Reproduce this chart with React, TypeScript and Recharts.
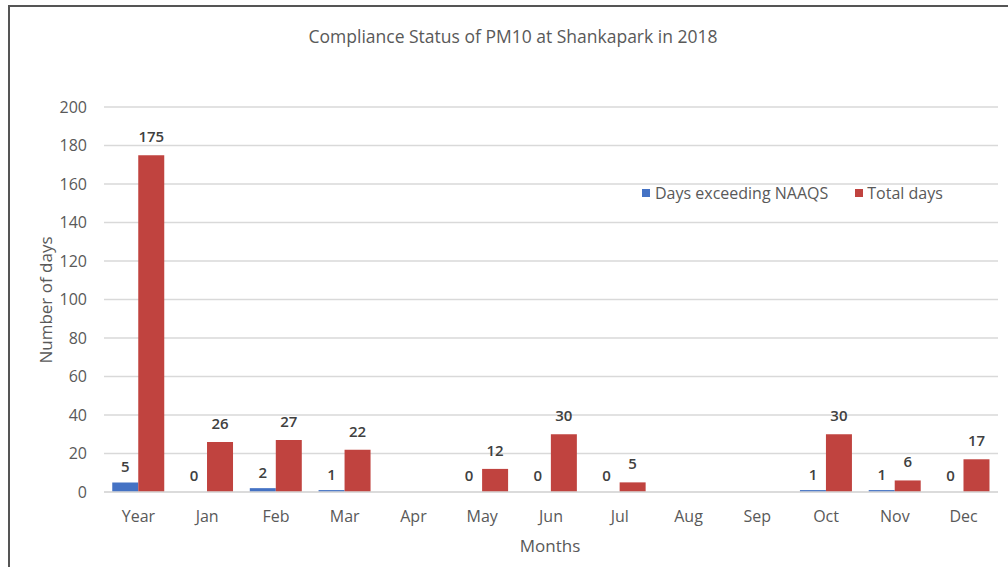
import { Bar, BarChart, CartesianGrid, Cell, LabelList, XAxis, YAxis } from "recharts";

const months = ["Year", "Jan", "Feb", "Mar", "Apr", "May", "Jun", "Jul", "Aug", "Sep", "Oct", "Nov", "Dec"];
const exceeding = [5, 0, 2, 1, null, 0, 0, 0, null, null, 1, 1, 0];
const totalDays = [175, 26, 27, 22, null, 12, 30, 5, null, null, 30, 6, 17];
const yTicks = [0, 20, 40, 60, 80, 100, 120, 140, 160, 180, 200];

const data = months.map((m, i) => ({ month: m, exceeding: exceeding[i], total: totalDays[i] }));

const BLUE = "#4472C4";
const RED = "#C0433F";
const TEXT = "#595959";
const FONT = "'Open Sans', sans-serif";

// zero values still need a (invisible) bar so the "0" label gets drawn
const zeroSize = (v: any) => (v === 0 ? 1 : 0);

export default function App() {
  return (
    <div
      style={{
        position: "absolute",
        top: 5,
        left: 8,
        width: 1000,
        height: 562,
        borderTop: "2px solid #555",
        borderLeft: "2px solid #555",
        background: "#fff",
        fontFamily: FONT,
      }}
    >
      <div style={{ position: "absolute", top: 17, left: 0, width: 1006, textAlign: "center", fontSize: 17.5, color: TEXT }}>
        Compliance Status of PM10 at Shankapark in 2018
      </div>
      <div
        style={{
          position: "absolute",
          left: 35,
          top: 293,
          transform: "translate(-50%, -50%) rotate(-90deg)",
          fontSize: 17,
          color: TEXT,
          whiteSpace: "nowrap",
        }}
      >
        Number of days
      </div>
      <div style={{ position: "absolute", top: 527, left: 0, width: 1080, textAlign: "center", fontSize: 17, color: TEXT }}>
        Months
      </div>
      <div
        style={{
          position: "absolute",
          top: 175,
          left: 632,
          display: "flex",
          alignItems: "center",
          fontSize: 16,
          color: TEXT,
          zIndex: 2,
        }}
      >
        <span style={{ width: 8, height: 8, background: BLUE, marginRight: 5 }} />
        <span style={{ marginRight: 27 }}>Days exceeding NAAQS</span>
        <span style={{ width: 8, height: 8, background: RED, marginRight: 4 }} />
        <span>Total days</span>
      </div>
      <BarChart
        width={1000}
        height={560}
        data={data}
        margin={{ top: 100, right: 12, bottom: 45, left: 0 }}
        barGap={0}
        barCategoryGap="12%"
      >
        <CartesianGrid vertical={false} stroke="#d9d9d9" strokeWidth={1.5} />
        <XAxis
          dataKey="month"
          height={30}
          axisLine={{ stroke: "#d9d9d9", strokeWidth: 1.5 }}
          tickLine={false}
          tickMargin={13}
          tick={{ fill: TEXT, fontSize: 16, fontFamily: FONT }}
        />
        <YAxis
          width={94}
          domain={[0, 200]}
          ticks={yTicks}
          axisLine={false}
          tickLine={false}
          tickMargin={11}
          tick={{ fill: TEXT, fontSize: 16, fontFamily: FONT }}
        />
        <Bar dataKey="exceeding" fill={BLUE} minPointSize={zeroSize} isAnimationActive={false}>
          {exceeding.map((v, i) => (
            <Cell key={i} fill={v === 0 ? "transparent" : BLUE} />
          ))}
          <LabelList dataKey="exceeding" position="top" offset={10} fill="#404040" fontSize={15} fontWeight={600} fontFamily={FONT} />
        </Bar>
        <Bar dataKey="total" fill={RED} isAnimationActive={false}>
          <LabelList dataKey="total" position="top" offset={13} fill="#404040" fontSize={15} fontWeight={600} fontFamily={FONT} />
        </Bar>
      </BarChart>
    </div>
  );
}
